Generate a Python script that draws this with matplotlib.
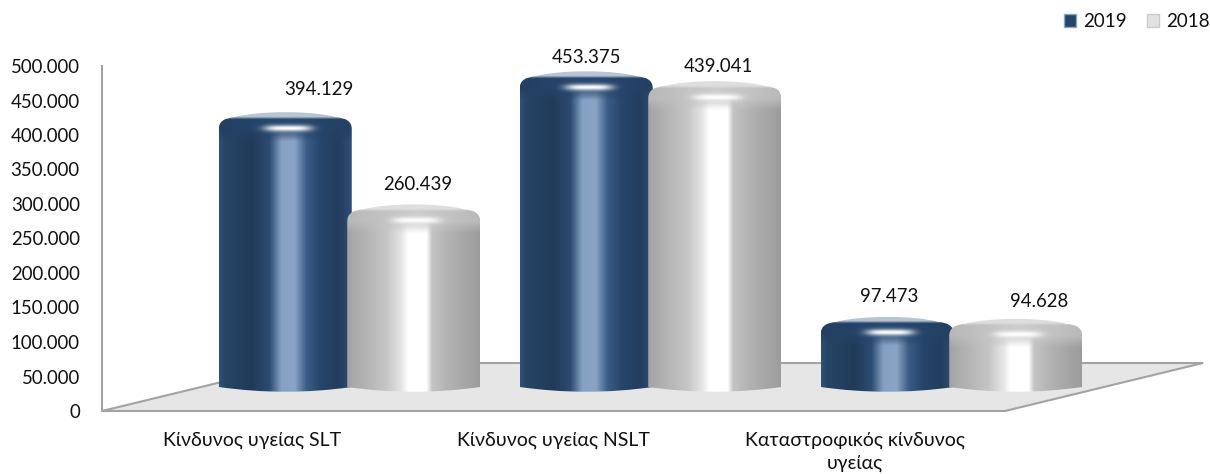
import numpy as np
import matplotlib
matplotlib.use("Agg")
import matplotlib.pyplot as plt
from matplotlib.patches import Patch, PathPatch, Polygon
from matplotlib.path import Path

plt.rcParams['font.family'] = ['Lato', 'Open Sans', 'DejaVu Sans']

categories = ['Κίνδυνος υγείας SLT', 'Κίνδυνος υγείας NSLT', 'Καταστροφικός κίνδυνος\nυγείας']
values_2019 = [394129, 453375, 97473]
values_2018 = [260439, 439041, 94628]
yticks = list(range(0, 500001, 50000))

# label nudges in px from the top centre of each bar (the original has them hand placed)
nudge_2019 = [(34, 23), (0, 14), (2, 20)]
nudge_2018 = [(4, 20), (4, 15), (23, 17)]

W, H = 1210, 474
fig = plt.figure(figsize=(W / 100, H / 100), dpi=100)
ax = fig.add_axes([102 / W, 1 - 411 / H, 903 / W, 345 / H])
ax.set_xlim(0, 3)
ax.set_ylim(0, 500000)

# px to data units
px_x = 3 / 903
px_y = 500000 / 345

blue_stops = ([0, .04, .25, .38, .47, .57, .66, .76, .9, 1],
              ['#2f5279', '#274566', '#213a59', '#2c4c72', '#86a1c2', '#89a4c5', '#3a5c85', '#27466c', '#223d5e', '#2d4f76'])
gray_stops = ([0, .05, .3, .41, .46, .60, .64, .75, 1],
              ['#a2a2a2', '#aaaaaa', '#c6c6c6', '#e6e6e6', '#ffffff', '#ffffff', '#c4c4c4', '#b4b4b4', '#9c9c9c'])


def to_rgb(c):
    return np.array(matplotlib.colors.to_rgb(c))


def bar_image(stops, rim, cap, w_px, h_px):
    u = np.linspace(0, 1, int(w_px) * 2)
    t = np.linspace(0, h_px, int(h_px) * 2)
    cols = np.array([to_rgb(c) for c in stops[1]])
    body = np.stack([np.interp(u, stops[0], cols[:, k]) for k in range(3)], axis=1)
    U, T = np.meshgrid(u, t)
    img = np.repeat(body[None, :, :], len(t), axis=0)
    # dark shoulder under the cap
    s = np.clip((T - 17) / 12, 0, 1)[:, :, None]
    rim_row = rim * (1 - 0.2 * np.abs(U - 0.52))[:, :, None]
    img = img * s + rim_row * (1 - s)
    # small white highlight on the shoulder
    g = np.exp(-((U - 0.52) * w_px / 24) ** 4 - ((T - 16) / 3.2) ** 2)[:, :, None]
    img = img * (1 - g) + g
    # flat lid
    c = np.clip((7 - T) / 2.5, 0, 1)[:, :, None]
    img = img * (1 - c) + cap * c
    return img


def draw_cylinder(cx, value, stops, rim, cap, z):
    w = 133 * px_x
    base = 24 * px_y
    top = base + value + 3 * px_y
    lens = 5 * px_y
    l, r = cx - w / 2, cx + w / 2
    verts = [(l, base), (cx, base - 1.9 * lens), (r, base),
             (r, top - 17 * px_y), (r, top - 6 * px_y), (r - 16 * px_x, top - 5 * px_y),
             (r - 40 * px_x, top + 1.5 * px_y), (l + 40 * px_x, top + 1.5 * px_y), (l + 16 * px_x, top - 5 * px_y),
             (l, top - 6 * px_y), (l, top - 17 * px_y), (l, base)]
    codes = [Path.MOVETO, Path.CURVE3, Path.CURVE3,
             Path.LINETO, Path.CURVE3, Path.CURVE3,
             Path.CURVE4, Path.CURVE4, Path.CURVE4,
             Path.CURVE3, Path.CURVE3, Path.LINETO]
    shape = PathPatch(Path(verts, codes), transform=ax.transData, facecolor='none', edgecolor='none')
    h_px = (top - base + lens) / px_y
    img = bar_image(stops, rim, cap, 133, h_px)
    im = ax.imshow(img, extent=(l, r, base - lens, top), aspect='auto', zorder=z, interpolation='bilinear')
    im.set_clip_box(fig.bbox)
    im.set_clip_path(shape)
    return top


# floor
dx, dy = 198 * px_x, 48 * px_y
floor = Polygon([(0, 0), (3, 0), (3 + dx, dy), (dx, dy)], closed=True, facecolor='#e6e6e6',
                edgecolor='#a3a3a3', linewidth=1.5, clip_on=False, zorder=1)
ax.add_patch(floor)

blue_rim = to_rgb('#27476e')
blue_cap = to_rgb('#b9c5d2')
gray_rim = to_rgb('#cdcdcd')
gray_cap = to_rgb('#dedede')

step = 64.25 * px_x
shift = 97 * px_x
for i in range(len(categories)):
    cx = i + 0.5 + shift
    top = draw_cylinder(cx - step, values_2019[i], blue_stops, blue_rim, blue_cap, 3)
    ax.annotate(f'{values_2019[i]:,}'.replace(',', '.'), (cx - step, top),
                xytext=(nudge_2019[i][0] * 0.72, nudge_2019[i][1] * 0.72),
                textcoords='offset points', ha='center', va='center', fontsize=13.4, color='#111111',
                annotation_clip=False, zorder=6)
    top = draw_cylinder(cx + step, values_2018[i], gray_stops, gray_rim, gray_cap, 4)
    ax.annotate(f'{values_2018[i]:,}'.replace(',', '.'), (cx + step, top),
                xytext=(nudge_2018[i][0] * 0.72, nudge_2018[i][1] * 0.72),
                textcoords='offset points', ha='center', va='center', fontsize=13.4, color='#111111',
                annotation_clip=False, zorder=6)

ax.set_xlim(0, 3)
ax.set_ylim(0, 500000)

for side in ['top', 'right', 'bottom']:
    ax.spines[side].set_visible(False)
ax.spines['left'].set_color('#a3a3a3')
ax.spines['left'].set_linewidth(1.5)
ax.patch.set_alpha(0)

ax.set_yticks(yticks)
ax.set_yticklabels([f'{v:,}'.replace(',', '.') for v in yticks], fontsize=13.4, color='#111111')
ax.set_xticks([i + 0.5 for i in range(len(categories))])
ax.set_xticklabels(categories, fontsize=14, color='#111111', linespacing=1.37)
ax.tick_params(axis='both', length=0)
ax.tick_params(axis='y', pad=16)
ax.tick_params(axis='x', pad=15)

handles = [Patch(facecolor='#274566', edgecolor='#8ba5c6', label='2019'),
           Patch(facecolor='#e2e2e2', edgecolor='#cccccc', label='2018')]
fig.legend(handles=handles, ncol=2, loc='upper right', bbox_to_anchor=(1.008, 0.994), frameon=False,
           fontsize=13.5, handlelength=0.65, handleheight=0.65, handletextpad=0.35, columnspacing=1.1,
           borderaxespad=0, borderpad=0.55, labelcolor='#111111')

fig.savefig('out.png', dpi=100)
